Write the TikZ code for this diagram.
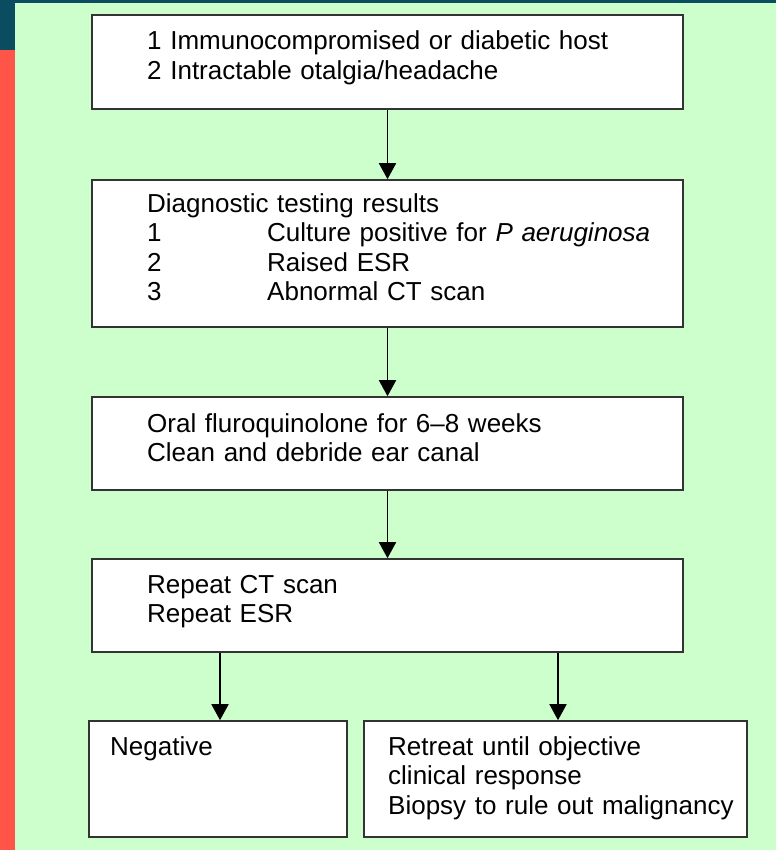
\documentclass[tikz,border=0pt]{standalone}
\usepackage{fontspec}
\setmainfont{Liberation Sans}
\usetikzlibrary{arrows.meta}
\usetikzlibrary{calc,positioning}

\definecolor{bggreen}{HTML}{CCFFCC}
\definecolor{barteal}{HTML}{0B4D60}
\definecolor{barred}{HTML}{FF5548}
\definecolor{boxline}{HTML}{333333}

\newcommand{\numline}[2]{\makebox[120pt][l]{#1}#2}

\begin{document}
\begin{tikzpicture}[x=1pt, y=-1pt]
	\tikzstyle{stage}=[draw=boxline, fill=white, line width=1.6pt, rectangle, inner sep=0pt]
	\tikzstyle{txt}=[anchor=base west, inner sep=0pt, align=left, text width=560pt,
	font=\fontsize{26}{29.6}\selectfont]
	\tikzstyle{flow}=[-{Triangle[width=17pt, length=16pt]}, line width=1.8pt]

	% page background and side bars
	\fill[bggreen] (0,0) rectangle (776,850);
	\fill[barteal] (0,0) rectangle (776,3);
	\fill[barteal] (0,0) rectangle (15,50);
	\fill[barred] (0,50) rectangle (15,850);
	\useasboundingbox (0,0) rectangle (776,850);

	% boxes
	\node[stage, minimum width=591pt, minimum height=94pt] (host) at (387.5,62) {};
	\node[stage, minimum width=591pt, minimum height=147pt] (tests) at (387.5,253.5) {};
	\node[stage, minimum width=591pt, minimum height=93pt] (treat) at (387.5,443.5) {};
	\node[stage, minimum width=591pt, minimum height=93pt] (repeat) at (387.5,605.5) {};
	\node[stage, minimum width=258pt, minimum height=116pt] (neg) at (218,779) {};
	\node[stage, minimum width=383pt, minimum height=116pt] (retreat) at (555.5,779) {};

	% texts
	\node[txt] (hostT) at (147,50) {1 Immunocompromised or diabetic host\\
		2 Intractable otalgia/headache};
	\node[txt] (testsT) at (147,212) {Diagnostic testing results\\
		\numline{1}{Culture positive for \textit{P aeruginosa}}\\
		\numline{2}{Raised ESR}\\
		\numline{3}{Abnormal CT scan}};
	\node[txt] (treatT) at (147,432) {Oral fluroquinolone for 6--8 weeks\\
		Clean and debride ear canal};
	\node[txt] (repeatT) at (147,593) {Repeat CT scan\\
		Repeat ESR};
	\node[txt, text width=230pt] (negT) at (110,755) {Negative};
	\node[txt, text width=355pt] (retreatT) at (388,755) {Retreat until objective\\
		clinical response\\
		Biopsy to rule out malignancy};

	% connectors
	\draw[flow] (host.south) -- (tests.north);
	\draw[flow] (tests.south) -- (treat.north);
	\draw[flow] (treat.south) -- (repeat.north);
	\draw[flow] ([xshift=2pt]neg.north |- repeat.south) -- ([xshift=2pt]neg.north);
	\draw[flow] ([xshift=2.5pt]retreat.north |- repeat.south) -- ([xshift=2.5pt]retreat.north);
\end{tikzpicture}
\end{document}
